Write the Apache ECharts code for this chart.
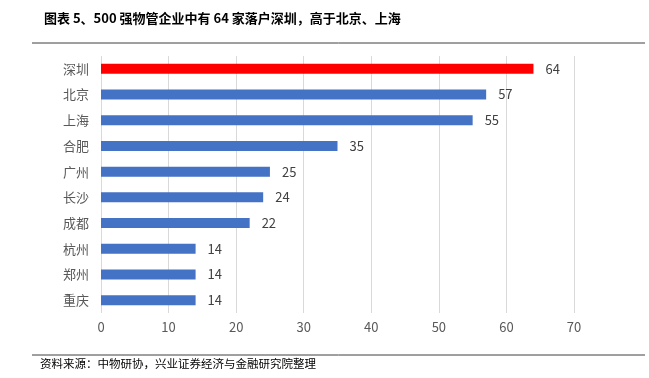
<!DOCTYPE html>
<html>
<head>
    <meta charset="utf-8">
    <title>ECharts</title>
    <script src="https://cdn.jsdelivr.net/npm/echarts@6/dist/echarts.min.js"></script>
    <style>
        body { margin: 0; background: #fff; }
    </style>
</head>
<body>
    <div id="main" style="width: 649px;height:378px;"></div>
    <script type="text/javascript">
        // 数据
        var cities = ['深圳', '北京', '上海', '合肥', '广州', '长沙', '成都', '杭州', '郑州', '重庆'];
        var counts = [64, 57, 55, 35, 25, 24, 22, 14, 14, 14];
        var xTicks = [0, 10, 20, 30, 40, 50, 60, 70];

        var myChart = echarts.init(document.getElementById('main'));
        var cjk = '"Noto Sans CJK SC", sans-serif';

        var barData = counts.map(function (v, i) {
            return {
                value: v,
                itemStyle: { color: i === 0 ? '#ff0000' : '#4472c4' }
            };
        });

        var option = {
            animation: false,
            backgroundColor: '#fff',
            title: {
                text: '图表 5、500 强物管企业中有 64 家落户深圳，高于北京、上海',
                left: 39,
                top: 7,
                textStyle: { fontFamily: cjk, fontSize: 13, fontWeight: 'bold', color: '#000' }
            },
            graphic: [
                { type: 'line', shape: { x1: 32, y1: 43, x2: 645, y2: 43 }, style: { stroke: '#404040', lineWidth: 1 } },
                { type: 'line', shape: { x1: 32, y1: 355, x2: 645, y2: 355 }, style: { stroke: '#404040', lineWidth: 1 } },
                {
                    type: 'text', left: 40, top: 358,
                    style: { text: '资料来源：中物研协，兴业证券经济与金融研究院整理', font: '11.5px "Noto Sans CJK SC"', fill: '#000' }
                }
            ],
            grid: { left: 101, right: 75, top: 56, bottom: 65 },
            xAxis: {
                type: 'value',
                min: 0,
                max: 70,
                interval: 10,
                axisLine: { show: false },
                axisTick: { show: false },
                splitLine: { lineStyle: { color: '#d9d9d9', width: 1 } },
                axisLabel: {
                    color: '#595959', fontSize: 13, fontFamily: cjk, margin: 8,
                    formatter: function (v) { return xTicks.indexOf(v) >= 0 ? String(v) : ''; }
                }
            },
            yAxis: {
                type: 'category',
                inverse: true,
                data: cities,
                axisLine: { show: false },
                axisTick: { show: false },
                axisLabel: { color: '#595959', fontSize: 13, fontFamily: cjk, margin: 12 }
            },
            series: [{
                type: 'bar',
                data: barData,
                barWidth: 10,
                label: {
                    show: true,
                    position: 'right',
                    distance: 12,
                    color: '#404040',
                    fontSize: 13,
                    fontFamily: cjk
                }
            }]
        };

        myChart.setOption(option);
    </script>
</body>
</html>
